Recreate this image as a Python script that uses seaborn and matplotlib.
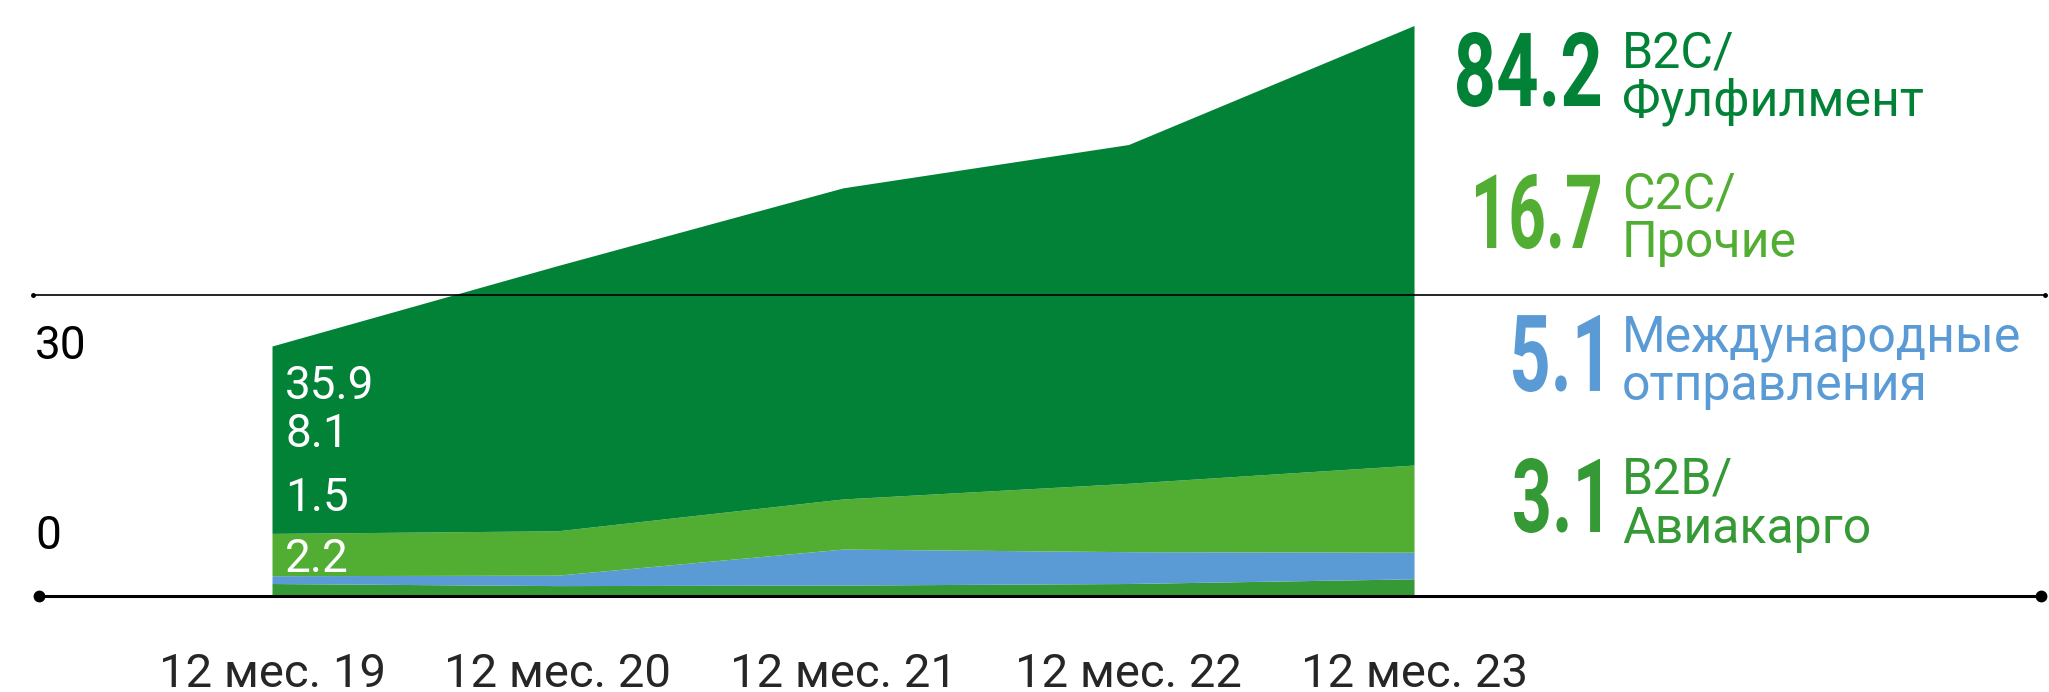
import matplotlib
matplotlib.use("Agg")
import matplotlib.pyplot as plt
from matplotlib.lines import Line2D
from matplotlib.textpath import TextPath
from matplotlib.patches import PathPatch
from matplotlib.transforms import Affine2D
from matplotlib.font_manager import FontProperties
import seaborn as sns

# Data: shipments by segment for each 12-month period
periods = ["12 мес. 19", "12 мес. 20", "12 мес. 21", "12 мес. 22", "12 мес. 23"]
b2b = [2.2, 1.8, 1.9, 2.2, 3.1]
international = [1.5, 2.0, 6.9, 6.1, 5.1]
c2c = [8.1, 8.5, 9.6, 13.1, 16.7]
b2c = [35.9, 50.8, 59.6, 64.9, 84.2]

# legend texts, top to bottom (two lines each)
legend_lines = [("B2C/", "Фулфилмент"), ("C2C/", "Прочие"),
                ("Международные", "отправления"), ("B2B/", "Авиакарго")]
colors = ["#359a35", "#5b9bd5", "#52ae32", "#028237"]  # b2b, intl, c2c, b2c

sns.set_theme(style="white")
plt.rcParams["font.family"] = ["Roboto", "DejaVu Sans"]

W, H = 2049, 692


def fx(x):
    return x / W


def fy(y):
    return 1 - y / H


fig = plt.figure(figsize=(W / 100, H / 100), dpi=100)
ax = fig.add_axes([0, 97 / H, 1, 595 / H])

x = list(range(len(periods)))
ax.stackplot(x, b2b, international, c2c, b2c, colors=colors, linewidth=0)

ax.set_xlim(-0.9527, 6.224)
ax.set_ylim(0, 595 / 5.22)
ax.set_yticks([])
ax.set_xticks(x)
ax.set_xticklabels(periods, fontsize=34)
ax.tick_params(axis="x", length=0, pad=41)
for s in ax.spines.values():
    s.set_visible(False)

# first period values written inside the area
first_vals = [b2c[0], c2c[0], international[0], b2b[0]]
for val, yy in zip(first_vals, [386, 434, 498, 559]):
    fig.text(fx(285), fy(yy), f"{val:.1f}", color="white", fontsize=33,
             va="center", ha="left")

# stray axis labels
fig.text(fx(35), fy(346), "30", fontsize=33, va="center", ha="left", color="black")
fig.text(fx(35), fy(536), "0", fontsize=33, va="center", ha="left", color="black")

# horizontal lines
fig.add_artist(Line2D([fx(33), fx(2045)], [fy(295), fy(295)], color="black", lw=1.2,
                      marker="o", markersize=2.5, zorder=5))
fig.add_artist(Line2D([fx(39), fx(2041)], [fy(596), fy(596)], color="black", lw=2.2,
                      marker="o", markersize=7.5, zorder=5))

# condensed bold numbers (no condensed font installed, so squeeze the glyph paths)
bold = FontProperties(family="Roboto", weight="bold")


def condensed_number(text, right, top, bottom, width, color):
    path = TextPath((0, 0), text, size=100, prop=bold)
    ext = path.get_extents()
    sy = (bottom - top) / ext.height
    sx = width / ext.width
    tr = (Affine2D().translate(-ext.x1, -ext.y0).scale(sx, sy)
          .translate(right, H - bottom))
    fig.add_artist(PathPatch(path, transform=tr, facecolor=color, edgecolor="none",
                             zorder=6))


last_vals = [b2c[-1], c2c[-1], international[-1], b2b[-1]]
legend_colors = colors[::-1]
num_box = [(32, 107, 143), (174, 249, 124), (315, 392, 87), (458, 533, 86)]
baselines = [(67, 115), (208, 257), (352, 400), (493, 543)]
for val, lines, col, (top, bottom, wid), (b1, b2) in zip(
        last_vals, legend_lines, legend_colors, num_box, baselines):
    condensed_number(f"{val:.1f}", 1600, top, bottom, wid, col)
    fig.text(fx(1622), fy(b1), lines[0], color=col, fontsize=36, ha="left", va="baseline")
    fig.text(fx(1622), fy(b2), lines[1], color=col, fontsize=36, ha="left", va="baseline")

fig.savefig("out.png", dpi=100)
